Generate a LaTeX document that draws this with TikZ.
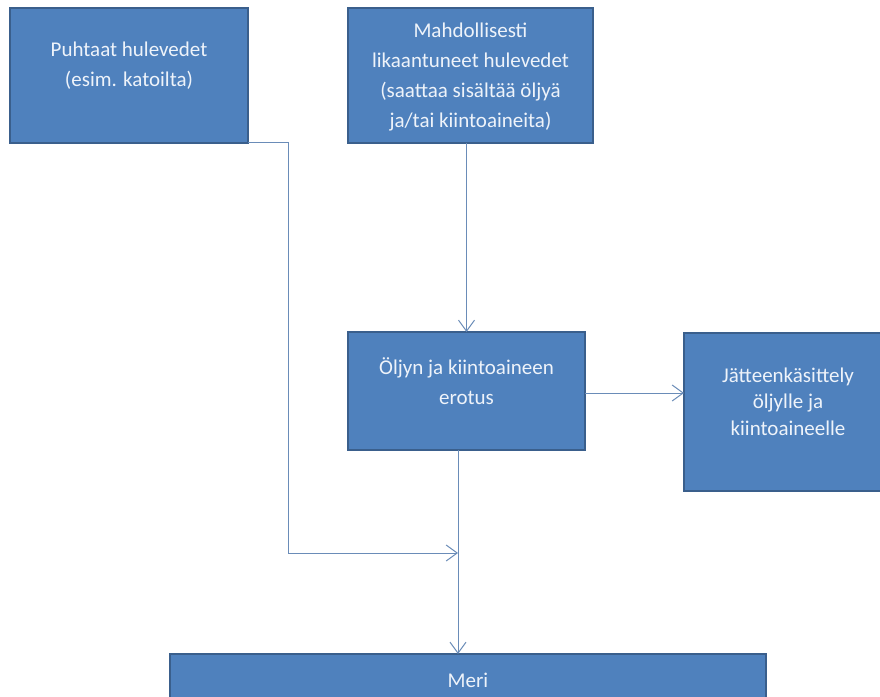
\documentclass[tikz,border=0pt]{standalone}
\usepackage{fontspec}
\setmainfont{Carlito}
\usetikzlibrary{arrows.meta}
\definecolor{boxfill}{HTML}{4F81BD}
\definecolor{boxline}{HTML}{3A5F8C}
\definecolor{wire}{HTML}{6A8CB8}
\definecolor{boxtext}{HTML}{EEF3FA}
\begin{document}
\begin{tikzpicture}[x=1pt,y=-1pt,
  box/.style={draw=boxline, line width=2pt, fill=boxfill, inner sep=0pt, outer sep=0pt},
  boxlabel/.style={text=boxtext, font=\fontsize{21}{30}\selectfont, align=center, inner sep=0pt},
  flow/.style={draw=wire, line width=1pt, -{Straight Barb[length=11pt,width=16pt]}},
  plainwire/.style={draw=wire, line width=1pt}]
  \useasboundingbox (0,0) rectangle (880,696);
  \fill[white] (0,0) rectangle (880,696);
  \clip (0,0) rectangle (880,696);

  % boxes
  \node[box, minimum width=238pt, minimum height=135pt] (b1) at (129,75.5) {};
  \node[box, minimum width=245pt, minimum height=135pt] (b2) at (470.5,75.5) {};
  \node[box, minimum width=237pt, minimum height=118pt] (b3) at (466.5,391) {};
  \node[box, minimum width=208pt, minimum height=158pt] (b4) at (788,412) {};
  \node[box, minimum width=596pt, minimum height=80pt] (sea) at (468,694) {};

  % box texts
  \node[boxlabel] (t1) at (129,66) {Puhtaat hulevedet\\(esim. katoilta)};
  \node[boxlabel] (t2) at (470.5,77) {Mahdollisesti\\likaantuneet hulevedet\\(saattaa sisältää öljyä\\ja/tai kiintoaineita)};
  \node[boxlabel] (t3) at (466.5,381.5) {Öljyn ja kiintoaineen\\erotus};
  \node[boxlabel, font=\fontsize{21}{26.5}\selectfont] (t4) at (788,401.5) {Jätteenkäsittely\\öljylle ja\\kiintoaineelle};
  \node[boxlabel] (t5) at (468,680) {Meri};

  % connectors
  \coordinate (bend1) at (288,142);
  \coordinate (join) at (458,553);
  \coordinate (sidestart) at (585,393);
  \draw[plainwire] (b1.south east) ++(0,-1) -- (bend1) -- (bend1 |- join);
  \draw[flow] (bend1 |- join) -- (join);
  \draw[flow] (b3.north |- b2.south) -- (b3.north);
  \draw[flow] (sidestart) -- (sidestart -| b4.west);
  \draw[flow] (b3.south -| join) -- (join |- sea.north);
\end{tikzpicture}
\end{document}
